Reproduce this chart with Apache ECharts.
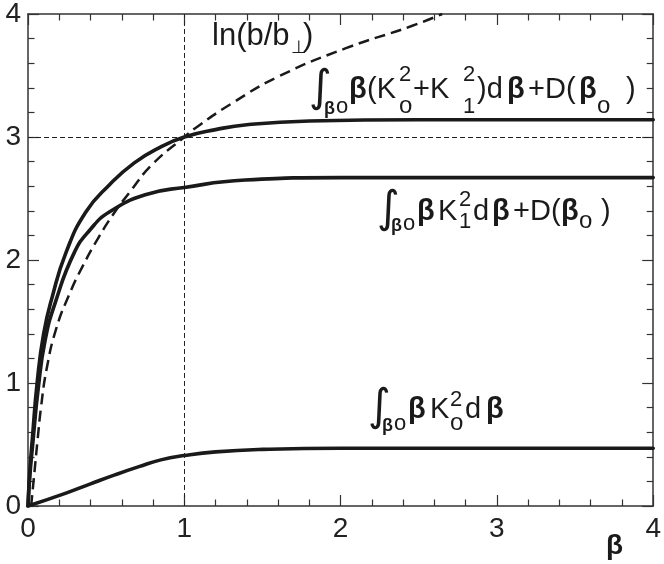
<!DOCTYPE html>
<html>
<head>
<meta charset="utf-8">
<script src="https://cdn.jsdelivr.net/npm/echarts@6/dist/echarts.min.js"></script>
<style>
html,body{margin:0;padding:0;background:#fff;}
#chart{width:664px;height:564px;}
</style>
</head>
<body>
<div id="chart"></div>
<script>
// ---- data ----
var xTicks = [0, 1, 2, 3, 4];
var yTicks = [0, 1, 2, 3, 4];
// ∫β(K0²+K1²)dβ + D(β0)
var curveTotal = [[0,0],[0.01,0.25],[0.028,0.55],[0.06,1.02],[0.1,1.4],[0.155,1.7],[0.243,2.06],[0.37,2.39],[0.52,2.61],[0.68,2.79],[0.85,2.92],[1.0,3.0],[1.2,3.06],[1.4,3.1],[1.8,3.13],[2.5,3.14],[4,3.14]];
// ∫β K1² dβ + D(β0)
var curveK1 = [[0,0],[0.012,0.25],[0.03,0.5],[0.065,0.95],[0.11,1.35],[0.176,1.66],[0.296,2.06],[0.4,2.25],[0.52,2.39],[0.75,2.53],[1.0,2.59],[1.39,2.65],[2.0,2.67],[4,2.67]];
// ∫β K0² dβ
var curveK0 = [[0,0],[0.243,0.105],[0.4,0.18],[0.56,0.255],[0.71,0.32],[0.85,0.375],[1.0,0.41],[1.2,0.44],[1.5,0.46],[2.0,0.47],[4,0.47]];
// ln(b/b⊥)
var curveLn = [[0.02,0],[0.04,0.26],[0.06,0.52],[0.085,0.82],[0.12,1.12],[0.18,1.44],[0.264,1.72],[0.35,1.95],[0.45,2.18],[0.55,2.38],[0.65,2.55],[0.79,2.77],[1.0,3.0],[1.09,3.09],[1.3,3.27],[1.6,3.49],[2.03,3.72],[2.45,3.9],[2.65,4.0]];
var refX = 1;
var refY = 3;

var FONT = '"Liberation Sans", Arial, Helvetica, sans-serif';
var INK = '#1a1a1a';

function t(x, base, str, size, bold, fam) {
  return {
    type: 'text', x: x, y: base - 0.35 * size, silent: true,
    style: {
      text: str, fill: INK,
      font: (bold ? 'bold ' : '') + size + 'px ' + (fam || FONT),
      textAlign: 'left', textVerticalAlign: 'middle'
    }
  };
}
function integral(x, cy) {
  return {
    type: 'text', x: x, y: cy, silent: true,
    style: { text: '\u222B', fill: INK, font: '44px "DejaVu Sans", sans-serif', textAlign: 'left', textVerticalAlign: 'middle' }
  };
}

var M = 29, SUP = 22, SUB = 24;
var labels = [];
// label 1: ∫β0 β(K0²+K1²)dβ+D(β0)
(function(){
  var b = 100, sp = 83, sb = 115;
  labels.push(integral(309, 90));
  labels.push(t(324, sb, '\u03B2', 18, true));
  labels.push(t(336, sb, 'o', 22));
  labels.push(t(349, b, '\u03B2', M, true));
  labels.push(t(367, b, '(K', M));
  labels.push(t(399, sp, '2', SUP));
  labels.push(t(399, sb, 'o', SUB));
  labels.push(t(413, b, '+K', M));
  labels.push(t(463, sp, '2', SUP));
  labels.push(t(463, sb, '1', SUP));
  labels.push(t(477, b, ')d', M));
  labels.push(t(507, b, '\u03B2', M, true));
  labels.push(t(528, b, '+D(', M));
  labels.push(t(579, b, '\u03B2', M, true));
  labels.push(t(597, sb, 'o', SUB));
  labels.push(t(626, b, ')', M));
})();
// label 2: ∫β0 β K1² dβ +D(β0)
(function(){
  var b = 222, sp = 208, sb = 230;
  labels.push(integral(377, 211));
  labels.push(t(391, sb + 2, '\u03B2', 18, true));
  labels.push(t(403, sb + 2, 'o', 22));
  labels.push(t(417, b, '\u03B2', M, true));
  labels.push(t(438, b, 'K', M));
  labels.push(t(459, sp, '2', SUP));
  labels.push(t(459, sb, '1', SUP));
  labels.push(t(473, b, 'd', M));
  labels.push(t(492, b, '\u03B2', M, true));
  labels.push(t(513, b, '+D(', M));
  labels.push(t(561, b, '\u03B2', M, true));
  labels.push(t(579, sb, 'o', SUB));
  labels.push(t(601, b, ')', M));
})();
// label 3: ∫β0 β K0² dβ
(function(){
  var b = 420, sp = 408, sb = 432;
  labels.push(integral(368, 409));
  labels.push(t(382, sb, '\u03B2', 18, true));
  labels.push(t(394, sb, 'o', 22));
  labels.push(t(408, b, '\u03B2', M, true));
  labels.push(t(430, b, 'K', M));
  labels.push(t(450, sp, '2', SUP));
  labels.push(t(450, sb, 'o', SUB));
  labels.push(t(465, b, 'd', M));
  labels.push(t(486, b, '\u03B2', M, true));
})();
// ln(b/b⊥)
labels.push(t(212, 47, 'ln(b/b', 31));
labels.push(t(291, 55, '\u22A5', 18, false, '"DejaVu Sans", sans-serif'));
labels.push(t(303, 47, ')', 31));
// axis name β
labels.push(t(606, 556, '\u03B2', 28, true));

var chart = echarts.init(document.getElementById('chart'), null, {renderer: 'canvas'});

function xAxisDef(pos, showLabel) {
  return {
    type: 'value', position: pos, min: xTicks[0], max: xTicks[xTicks.length - 1], interval: 1,
    axisLine: { show: true, onZero: false, lineStyle: { color: '#333', width: 1.5 } },
    axisTick: { show: true, inside: true, length: 11, lineStyle: { color: '#333', width: 1.2 } },
    minorTick: { show: true, splitNumber: 5, length: 6.5, lineStyle: { color: '#333', width: 1.2 } },
    splitLine: { show: false },
    axisLabel: { show: showLabel, margin: 9, fontSize: 28, color: '#222', fontFamily: FONT }
  };
}
function yAxisDef(pos, showLabel) {
  return {
    type: 'value', position: pos, min: yTicks[0], max: yTicks[yTicks.length - 1], interval: 1,
    axisLine: { show: true, onZero: false, lineStyle: { color: '#333', width: 1.5 } },
    axisTick: { show: true, inside: true, length: 11, lineStyle: { color: '#333', width: 1.2 } },
    minorTick: { show: true, splitNumber: 5, length: 6.5, lineStyle: { color: '#333', width: 1.2 } },
    splitLine: { show: false },
    axisLabel: { show: showLabel, margin: 7, fontSize: 28, color: '#222', fontFamily: FONT }
  };
}

function lineSeries(data, dashed, width) {
  return {
    type: 'line', data: data, xAxisIndex: 0, yAxisIndex: 0,
    showSymbol: false, symbol: 'none', smooth: 0.5,
    clip: true, silent: true,
    lineStyle: { color: INK, width: width, type: dashed ? [11, 6] : 'solid', join: 'round', cap: 'round' }
  };
}

var s1 = lineSeries(curveTotal, false, 3.6);
s1.markLine = {
  silent: true, symbol: 'none', label: { show: false },
  lineStyle: { color: '#222', width: 1, type: [5, 3] },
  data: [{ xAxis: refX }, { yAxis: refY }]
};
var s4 = lineSeries(curveLn, true, 2.5);
s4.lineStyle.cap = 'butt';

chart.setOption({
  animation: false,
  backgroundColor: '#fff',
  grid: { left: 28, right: 7, top: 10, bottom: 58, containLabel: false },
  xAxis: [xAxisDef('bottom', true), xAxisDef('top', false)],
  yAxis: [yAxisDef('left', true), yAxisDef('right', false)],
  series: [
    s1,
    lineSeries(curveK1, false, 3.6),
    lineSeries(curveK0, false, 3.6),
    s4
  ],
  graphic: labels
});
</script>
</body>
</html>
